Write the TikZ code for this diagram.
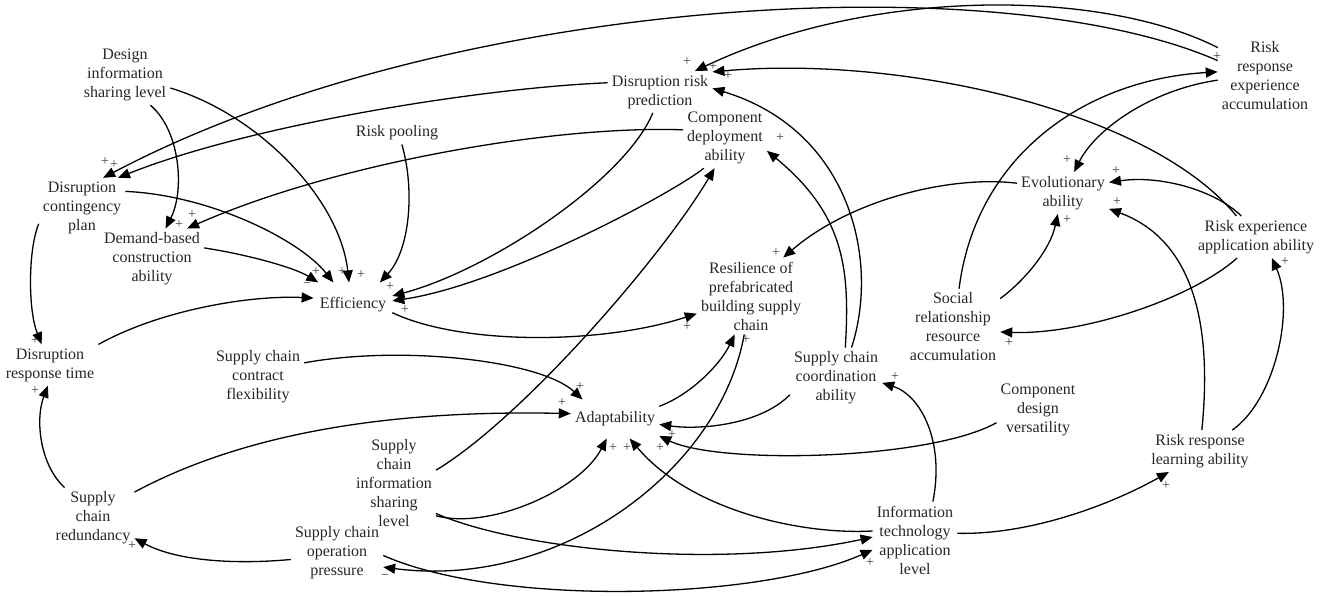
\documentclass[tikz,border=0pt]{standalone}
\usepackage{fontspec}
\setmainfont{Liberation Serif}
\usetikzlibrary{arrows.meta}
\tikzset{
  var/.style={font=\fontsize{16}{19}\selectfont, align=center, inner sep=4pt, text=black!85},
  pol/.style={font=\fontsize{14}{14}\selectfont, inner sep=0pt, text=black!75},
  link/.style={line width=1.3pt, -{Triangle[length=12pt,width=10pt]}},
}
\begin{document}
\begin{tikzpicture}[x=1pt, y=-1pt]
    \useasboundingbox (0,0) rectangle (1332,595);
    % variables
    \node[var] (desinfo)  at (125,75)  {Design\\information\\sharing level};
    \node[var] (pooling)  at (397,133) {Risk pooling};
    \node[var] (riskpred) at (660,92)  {Disruption risk\\prediction};
    \node[var] (deploy)   at (725,138) {Component\\deployment\\ability};
    \node[var] (expacc)   at (1265,76) {Risk\\response\\experience\\accumulation};
    \node[var] (contplan) at (82,208)  {Disruption\\contingency\\plan};
    \node[var] (demand)   at (152,259) {Demand-based\\construction\\ability};
    \node[var] (evol)     at (1063,193) {Evolutionary\\ability};
    \node[var] (expapp)   at (1256,237) {Risk experience\\application ability};
    \node[var] (resil)    at (751,296) {Resilience of\\prefabricated\\building supply\\chain};
    \node[var, inner xsep=6pt, inner ysep=15pt] (effic) at (353,305) {Efficiency};
    \node[var] (social)   at (953,327) {Social\\relationship\\resource\\accumulation};
    \node[var] (resptime) at (50,365)  {Disruption\\response time};
    \node[var] (contract) at (258,377) {Supply chain\\contract\\flexibility};
    \node[var] (coord)    at (836,378) {Supply chain\\coordination\\ability};
    \node[var] (versat)   at (1038,410) {Component\\design\\versatility};
    \node[var, inner ysep=12pt] (adapt) at (615,419) {Adaptability};
    \node[var] (scinfo)   at (394,483) {Supply\\chain\\information\\sharing\\level};
    \node[var] (learn)    at (1200,451) {Risk response\\learning ability};
    \node[var] (redund)   at (93,518)  {Supply\\chain\\redundancy};
    \node[var] (itlevel)  at (915,540) {Information\\technology\\application\\level};
    \node[var] (pressure) at (337,553) {Supply chain\\operation\\pressure};
    % causal links
    \draw[link] (expacc.162) .. controls (1000,-35) and (450,-5) .. (contplan.55);
    \draw[link] (expacc.149) .. controls (1100,-12) and (870,-12) .. (riskpred.31);
    \draw[link] (expapp.133) .. controls (1150,110) and (900,55) .. (riskpred.21);
    \draw[link] (coord.63) .. controls (880,260) and (850,130) .. (riskpred.4);
    \draw[link] (coord.73) .. controls (850,270) and (845,215) .. (deploy.-17);
    \draw[link] (social.81) .. controls (975,160) and (1080,80) .. (expacc.175);
    \draw[link] (expacc.185) .. controls (1150,90) and (1095,130) .. (evol.62);
    \draw[link] (expapp.125) .. controls (1215,190) and (1160,175) .. (evol.13);
    \draw[link] (expapp.228) .. controls (1190,300) and (1080,335) .. (social.-6);
    \draw[link] (learn.33) .. controls (1275,400) and (1295,310) .. (expapp.-53);
    \draw[link] (learn.85) .. controls (1215,300) and (1180,235) .. (evol.-19);
    \draw[link] (social.31) .. controls (1025,280) and (1050,250) .. (evol.-104);
    \draw[link] (evol.168) .. controls (950,175) and (850,200) .. (resil.50);
    \draw[link] (effic.-11) .. controls (460,345) and (600,345) .. (resil.198);
    \draw[link] (adapt.16) .. controls (690,395) and (720,365) .. (resil.247);
    \draw[link] (resil.260) .. controls (720,470) and (560,590) .. (pressure.-17);
    \draw[link] (pressure.188) .. controls (230,565) and (175,560) .. (redund.-26);
    \draw[link] (pressure.-3) .. controls (500,607) and (760,600) .. (itlevel.193);
    \draw[link] (scinfo.-36) .. controls (520,550) and (720,570) .. (itlevel.176);
    \draw[link] (scinfo.-38) .. controls (490,530) and (580,490) .. (adapt.247);
    \draw[link] (scinfo.17) .. controls (520,420) and (660,260) .. (deploy.251);
    \draw[link] (redund.32) .. controls (250,430) and (400,410) .. (adapt.173);
    \draw[link] (contract.17) .. controls (400,345) and (540,360) .. (adapt.149);
    \draw[link] (coord.200) .. controls (760,425) and (700,430) .. (adapt.-7);
    \draw[link] (versat.197) .. controls (930,460) and (720,465) .. (adapt.-21);
    \draw[link] (itlevel.168) .. controls (800,535) and (690,510) .. (adapt.-53);
    \draw[link] (itlevel.65) .. controls (945,440) and (920,395) .. (coord.-6);
    \draw[link] (itlevel.9) .. controls (1030,535) and (1110,505) .. (learn.214);
    \draw[link] (contplan.200) .. controls (28,250) and (28,310) .. (resptime.112);
    \draw[link] (redund.133) .. controls (40,465) and (35,420) .. (resptime.264);
    \draw[link] (resptime.23) .. controls (160,310) and (250,295) .. (effic.170);
    \draw[link] (demand.12) .. controls (250,255) and (295,268) .. (effic.147);
    \draw[link] (contplan.21) .. controls (210,195) and (300,240) .. (effic.131);
    \draw[link] (desinfo.-16) .. controls (260,115) and (340,200) .. (effic.100);
    \draw[link] (desinfo.-50) .. controls (180,130) and (185,190) .. (demand.66);
    \draw[link] (deploy.169) .. controls (550,125) and (330,165) .. (demand.41);
    \draw[link] (deploy.235) .. controls (670,195) and (500,285) .. (effic.6);
    \draw[link] (riskpred.251) .. controls (625,180) and (490,270) .. (effic.13);
    \draw[link] (pooling.-67) .. controls (415,190) and (410,250) .. (effic.40);
    \draw[link] (riskpred.170) .. controls (480,88) and (250,125) .. (contplan.40);
    % polarities
    \node[pol] (s1) at (105,162) {+};  \node[pol] (s2) at (114,165) {+};
    \node[pol] (s3) at (179,225) {+};  \node[pol] (s4) at (192,215) {+};
    \node[pol] (s5) at (316,272) {+};  \node[pol] (s6) at (307,285) {−};
    \node[pol] (s7) at (342,272) {+};  \node[pol] (s8) at (361,275) {+};
    \node[pol] (s9) at (390,287) {+};  \node[pol] (s10) at (405,310) {+};
    \node[pol] (s11) at (687,62) {+};  \node[pol] (s12) at (713,67) {+};
    \node[pol] (s13) at (728,76) {+};  \node[pol] (s14) at (780,138) {+};
    \node[pol] (s15) at (1217,57) {+}; \node[pol] (s16) at (1067,160) {+};
    \node[pol] (s17) at (1116,171) {+}; \node[pol] (s18) at (1117,202) {+};
    \node[pol] (s19) at (1067,220) {+}; \node[pol] (s20) at (1285,262) {+};
    \node[pol] (s21) at (776,253) {+}; \node[pol] (s22) at (687,327) {+};
    \node[pol] (s23) at (746,340) {+}; \node[pol] (s24) at (1009,343) {+};
    \node[pol] (s25) at (35,341) {+};  \node[pol] (s26) at (35,391) {+};
    \node[pol] (s27) at (895,377) {+}; \node[pol] (s28) at (580,387) {+};
    \node[pol] (s29) at (562,403) {+}; \node[pol] (s30) at (613,448) {+};
    \node[pol] (s31) at (627,448) {+}; \node[pol] (s32) at (660,448) {+};
    \node[pol] (s33) at (672,435) {+}; \node[pol] (s34) at (1166,486) {+};
    \node[pol] (s35) at (132,546) {+}; \node[pol] (s36) at (870,563) {+};
    \node[pol] (s37) at (385,577) {−};
\end{tikzpicture}
\end{document}
